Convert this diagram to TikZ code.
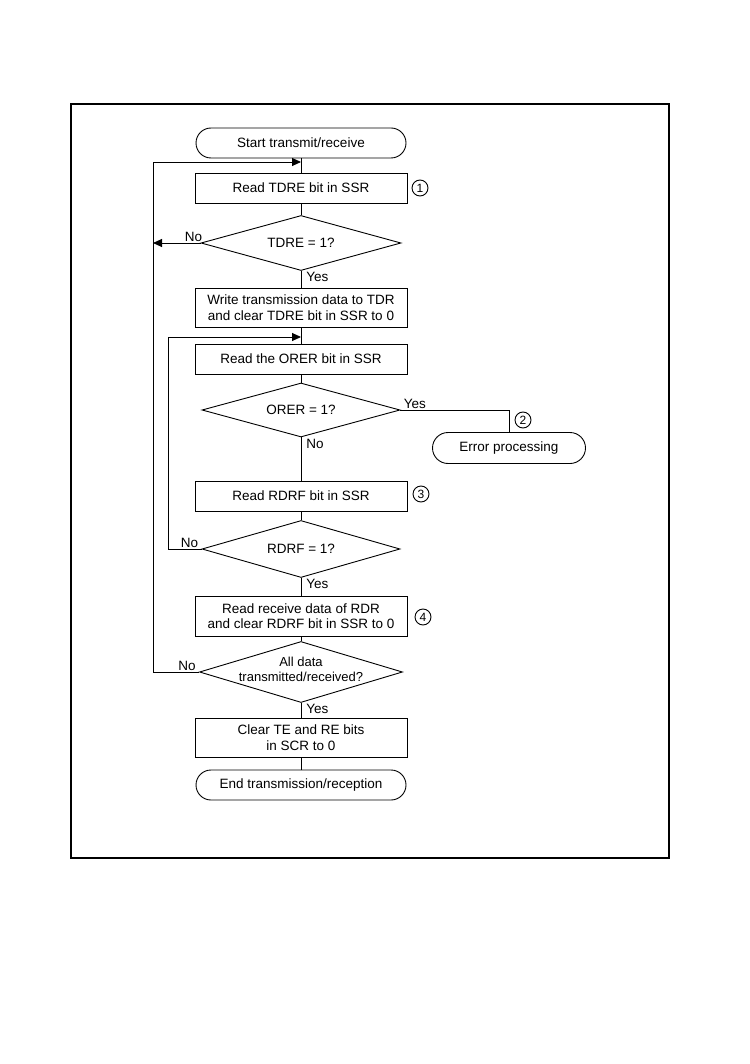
\documentclass[tikz,border=0pt]{standalone}
\usepackage{fontspec}
\setmainfont{Liberation Sans}
\usetikzlibrary{shapes.geometric,shapes.misc,arrows.meta}
\begin{document}
\begin{tikzpicture}[x=1pt,y=-1pt,
  line width=0.9pt,
  every node/.style={font=\fontsize{13.5}{15.5}\selectfont},
  procbox/.style={draw,rectangle,minimum width=212pt,inner sep=0pt,align=center},
  termbox/.style={draw,rounded rectangle,minimum height=30pt,inner sep=0pt,align=center},
  decbox/.style={draw,diamond,inner sep=0pt},
  numcirc/.style={draw,circle,minimum size=16pt,inner sep=0pt,font=\fontsize{12}{12}\selectfont},
  lbl/.style={inner sep=1pt},
  arr/.style={-{Triangle[length=9pt,width=8pt]}}
]
\path[fill=white] (0,0) rectangle (749,1064);
\useasboundingbox (0,0) rectangle (749,1064);
\draw[line width=1.2pt] (71,104) rectangle (669,858);

\node[termbox,minimum width=210pt] (start) at (301,143) {Start transmit/receive};
\node[procbox,minimum height=30pt] (b1) at (301,188) {Read TDRE bit in SSR};
\node[decbox,minimum width=200pt,minimum height=55pt] (d1) at (301,243) {};
\node (t1) at (d1) {TDRE = 1?};
\node[procbox,minimum height=39pt] (b2) at (301,307.5) {Write transmission data to TDR\\and clear TDRE bit in SSR to 0};
\node[procbox,minimum height=30pt] (b3) at (301,359) {Read the ORER bit in SSR};
\node[decbox,minimum width=198pt,minimum height=54pt] (d2) at (301,410) {};
\node (t2) at (d2) {ORER = 1?};
\node[termbox,minimum width=153pt,minimum height=31pt] (err) at (509,448) {Error processing};
\node[procbox,minimum height=30pt] (b4) at (301,496) {Read RDRF bit in SSR};
\node[decbox,minimum width=198pt,minimum height=57pt] (d3) at (301,549) {};
\node (t3) at (d3) {RDRF = 1?};
\node[procbox,minimum height=40pt] (b5) at (301,616) {Read receive data of RDR\\and clear RDRF bit in SSR to 0};
\node[decbox,minimum width=203pt,minimum height=61pt] (d4) at (301,672) {};
\node[align=center,font=\fontsize{13}{15}\selectfont] (t4) at ([yshift=3pt]d4.center) {All data\\transmitted/received?};
\node[procbox,minimum height=39pt] (b6) at (301,737.5) {Clear TE and RE bits\\in SCR to 0};
\node[termbox,minimum width=210pt] (fin) at (301,785) {End transmission/reception};

\node[numcirc] (n1) at (420,188) {1};
\node[numcirc] (n2) at (523,420) {2};
\node[numcirc] (n3) at (421,494) {3};
\node[numcirc] (n4) at (423,617) {4};

\coordinate (L1) at (153,162);
\coordinate (L1b) at (153,243);
\coordinate (L2) at (168,337);
\coordinate (e1) at (509,410);

\draw (start.south) -- (b1.north);
\draw (b1.south) -- (d1.north);
\draw (d1.south) -- (b2.north);
\draw (b2.south) -- (b3.north);
\draw (b3.south) -- (d2.north);
\draw (d2.south) -- (b4.north);
\draw (b4.south) -- (d3.north);
\draw (d3.south) -- (b5.north);
\draw (b5.south) -- (d4.north);
\draw (d4.south) -- (b6.north);
\draw (b6.south) -- (fin.north);

\draw (d4.west) -| (L1);
\draw[arr] (L1) -- (L1 -| b1.north);
\draw[arr] (d1.west) -- (L1b);
\draw (d3.west) -| (L2);
\draw[arr] (L2) -- (L2 -| b3.north);
\draw (d2.east) -- (e1) -- (err.north);

\node[lbl,anchor=south east] at ([xshift=3pt]d1.west) {No};
\node[lbl,anchor=north west] at ([xshift=4pt]d1.south) {Yes};
\node[lbl,anchor=south west] at ([xshift=2pt]d2.east) {Yes};
\node[lbl,anchor=north west] at ([xshift=4pt]d2.south) {No};
\node[lbl,anchor=south east] at ([xshift=-2pt]d3.west) {No};
\node[lbl,anchor=north west] at ([xshift=4pt]d3.south) {Yes};
\node[lbl,anchor=south east] at ([xshift=-2pt]d4.west) {No};
\node[lbl,anchor=north west] at ([xshift=4pt]d4.south) {Yes};
\end{tikzpicture}
\end{document}
